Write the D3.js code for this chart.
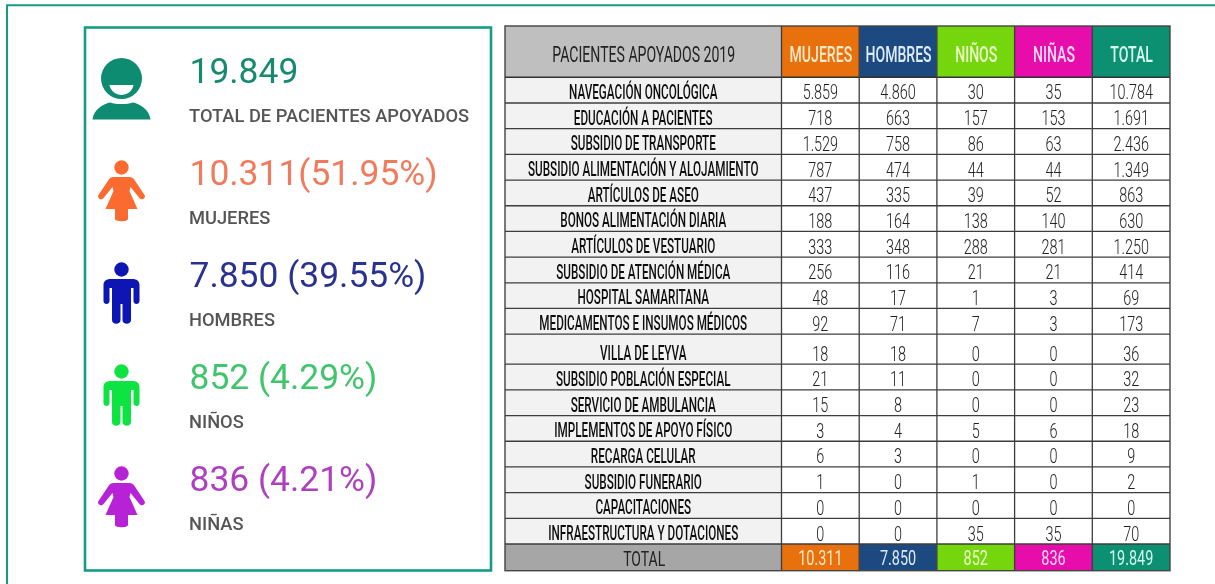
<!DOCTYPE html>
<html>
<head>
<meta charset="utf-8">
<script src="https://cdn.jsdelivr.net/npm/d3@7"></script>
<style>
  html, body { margin: 0; padding: 0; background: #fff; }
  svg { display: block; }
</style>
</head>
<body>
<svg width="1215" height="584"></svg>
<script>
// left panel
const summaryNames = ["TOTAL DE PACIENTES APOYADOS", "MUJERES", "HOMBRES", "NIÑOS", "NIÑAS"];
const summaryValues = ["19.849", "10.311(51.95%)", "7.850 (39.55%)", "852 (4.29%)", "836 (4.21%)"];
const summaryColors = ["#16896f", "#f27a5c", "#2a3190", "#3fc46c", "#ae40bf"];
const iconColors = ["#0f8c72", "#fb6a2e", "#0a16b2", "#10e443", "#b722d6"];
const iconKinds = ["user", "woman", "man", "man", "woman"];

// table
const categories = [
  "NAVEGACIÓN ONCOLÓGICA", "EDUCACIÓN A PACIENTES", "SUBSIDIO DE TRANSPORTE",
  "SUBSIDIO ALIMENTACIÓN Y ALOJAMIENTO", "ARTÍCULOS DE ASEO", "BONOS ALIMENTACIÓN DIARIA",
  "ARTÍCULOS DE VESTUARIO", "SUBSIDIO DE ATENCIÓN MÉDICA", "HOSPITAL SAMARITANA",
  "MEDICAMENTOS E INSUMOS MÉDICOS", "VILLA DE LEYVA", "SUBSIDIO POBLACIÓN ESPECIAL",
  "SERVICIO DE AMBULANCIA", "IMPLEMENTOS DE APOYO FÍSICO", "RECARGA CELULAR",
  "SUBSIDIO FUNERARIO", "CAPACITACIONES", "INFRAESTRUCTURA Y DOTACIONES"
];
const columns = ["MUJERES", "HOMBRES", "NIÑOS", "NIÑAS", "TOTAL"];
const columnColors = ["#e8700d", "#1f4a80", "#76d60f", "#e60cab", "#0b8f72"];
const columnText = ["#fde9c8", "#dcebfa", "#eaffc8", "#ffd9f6", "#d5fbef"];
const mujeres = [5859, 718, 1529, 787, 437, 188, 333, 256, 48, 92, 18, 21, 15, 3, 6, 1, 0, 0];
const hombres = [4860, 663, 758, 474, 335, 164, 348, 116, 17, 71, 18, 11, 8, 4, 3, 0, 0, 0];
const ninos = [30, 157, 86, 44, 39, 138, 288, 21, 1, 7, 0, 0, 0, 5, 0, 1, 0, 35];
const ninas = [35, 153, 63, 44, 52, 140, 281, 21, 3, 3, 0, 0, 0, 6, 0, 0, 0, 35];
const totals = [10784, 1691, 2436, 1349, 863, 630, 1250, 414, 69, 173, 36, 32, 23, 18, 9, 2, 0, 70];
const columnTotals = [10311, 7850, 852, 836, 19849];
const series = [mujeres, hombres, ninos, ninas, totals];
const tableTitle = "PACIENTES APOYADOS 2019";
const totalLabel = "TOTAL";

const fmt = d3.formatLocale({decimal: ",", thousands: ".", grouping: [3], currency: ["", ""]}).format(",d");
const svg = d3.select("svg");
const teal = "#179c82";

// blurred a little, the source is a low-res screenshot
const defs = svg.append("defs");
defs.append("filter").attr("id", "soft")
    .append("feGaussianBlur").attr("stdDeviation", 0.35);

const root = svg.append("g").attr("filter", "url(#soft)");

// outer frame
root.append("path")
    .attr("d", "M7,584V5.3H1215")
    .attr("fill", "none").attr("stroke", teal).attr("stroke-width", 2);

// summary panel
root.append("rect")
    .attr("x", 85).attr("y", 27.5).attr("width", 406).attr("height", 543)
    .attr("fill", "#fff").attr("stroke", teal).attr("stroke-width", 2.6);

const valueY = d3.scalePoint().domain(summaryNames).range([83, 491]);

const iconPaths = {
  woman: "M-8,17 C-10,17 -12,18 -13,20 L-23,35 C-25,38 -20,41 -18,38 L-9,27 L-8,31 L-16,49 L-6.5,49 L-6.5,59 C-6.5,62 6.5,62 6.5,59 L6.5,49 L16,49 L8,31 L9,27 L18,38 C20,41 25,38 23,35 L13,20 C12,18 10,17 8,17 Z",
  man: "M-11,17 C-15,17 -18,19 -18,23 L-18,39 C-18,43 -12,43 -12,39 L-12,26 L-9.5,26 L-9.5,58 C-9.5,63 -1,63 -1,58 L-1,42 L1,42 L1,58 C1,63 9.5,63 9.5,58 L9.5,26 L12,26 L12,39 C12,43 18,43 18,39 L18,23 C18,19 15,17 11,17 Z"
};

summaryNames.forEach(function(name, i) {
  const y = valueY(name);
  root.append("text")
      .attr("x", 189.5).attr("y", y)
      .attr("font-family", "Roboto").attr("font-size", 35.4)
      .attr("fill", summaryColors[i]).text(summaryValues[i]);
  root.append("text")
      .attr("x", 189).attr("y", y + 39)
      .attr("font-family", "Roboto").attr("font-weight", 500).attr("font-size", 18.3)
      .attr("fill", "#555").text(name);

  const icon = root.append("g").attr("fill", iconColors[i]);
  if (iconKinds[i] === "user") {
    icon.attr("transform", "translate(121.5," + (y - 4.5) + ")");
    icon.append("circle").attr("r", 20.5);
    icon.append("path").attr("d", "M-12,6.5 H12 C11,13 5,16.5 0,16.5 C-5,16.5 -11,13 -12,6.5 Z").attr("fill", "#fff");
    icon.append("path").attr("d", "M-29,41 C-28,31 -18,25 -11,24 C-6,26 6,26 11,24 C18,25 28,31 29,41 Z");
  } else {
    icon.attr("transform", "translate(121.5," + (y - 25) + ")");
    icon.append("circle").attr("cy", 7.5).attr("r", 7.2);
    icon.append("path").attr("d", iconPaths[iconKinds[i]]);
  }
});

// table scales, the VILLA DE LEYVA row is a bit taller than the others
const labelX = d3.scaleLinear().domain([0, 1]).range([505, 781.5]);
const colX = d3.scaleBand().domain(columns).range([781.5, 1170]);
const rowEdge = d3.scaleLinear().domain([0, 18.17]).range([77.3, 544]);
const rowEnd = categories.map(function(d, i) { return i < 10 ? i + 1 : i + 1.17; });

const g = root.append("g").attr("class", "table");

// backgrounds
g.append("rect").attr("x", labelX(0)).attr("y", 26).attr("width", labelX(1) - labelX(0)).attr("height", 51.3).attr("fill", "#bfbfbf");
g.append("rect").attr("x", labelX(0)).attr("y", rowEdge(0)).attr("width", labelX(1) - labelX(0)).attr("height", rowEdge(18.17) - rowEdge(0)).attr("fill", "#f2f2f2");
g.append("rect").attr("x", labelX(0)).attr("y", 544).attr("width", labelX(1) - labelX(0)).attr("height", 26.7).attr("fill", "#a6a6a6");

g.selectAll("rect.head").data(columns).enter().append("rect")
    .attr("class", "head")
    .attr("x", function(d) { return colX(d); })
    .attr("y", 26).attr("width", colX.bandwidth()).attr("height", 51.3)
    .attr("fill", function(d, i) { return columnColors[i]; });
g.selectAll("rect.foot").data(columns).enter().append("rect")
    .attr("class", "foot")
    .attr("x", function(d) { return colX(d); })
    .attr("y", 544).attr("width", colX.bandwidth()).attr("height", 26.7)
    .attr("fill", function(d, i) { return columnColors[i]; });

// grid
g.selectAll("line.h").data(rowEnd).enter().append("line")
    .attr("class", "h")
    .attr("x1", 505).attr("x2", 1170)
    .attr("y1", function(d) { return rowEdge(d); })
    .attr("y2", function(d) { return rowEdge(d); })
    .attr("stroke", "#3d3d3d").attr("stroke-width", 1.3);
g.append("line").attr("x1", 505).attr("x2", 1170).attr("y1", 77.3).attr("y2", 77.3).attr("stroke", "#333").attr("stroke-width", 1.6);
g.append("rect").attr("x", 505).attr("y", 26).attr("width", 665).attr("height", 544.7)
    .attr("fill", "none").attr("stroke", "#444").attr("stroke-width", 1.4);
g.selectAll("line.v").data(columns).enter().append("line")
    .attr("class", "v")
    .attr("x1", function(d) { return colX(d); }).attr("x2", function(d) { return colX(d); })
    .attr("y1", 26).attr("y2", 570.7)
    .attr("stroke", "#3d3d3d").attr("stroke-width", 1.3);

// no condensed font here, so Roboto squeezed to get the look of the source
function cellText(x, y, str, size, squeeze, fill, weight) {
  return g.append("text")
      .attr("transform", "translate(" + x + "," + y + ") scale(" + squeeze + ",1)")
      .attr("text-anchor", "middle")
      .attr("font-family", "Roboto")
      .attr("font-weight", weight)
      .attr("font-size", size)
      .attr("fill", fill)
      .text(str);
}

const labelMid = (labelX(0) + labelX(1)) / 2;
cellText(labelMid + 0.5, 62, tableTitle, 22, 0.64, "#222", 400);

columns.forEach(function(c, j) {
  const mid = colX(c) + colX.bandwidth() / 2;
  cellText(mid + 0.5, 62, c, 22, 0.64, columnText[j], 500);
  cellText(mid, 565, fmt(columnTotals[j]), 19.5, 0.74, columnText[j], 400);
});
cellText(labelMid + 1, 566, totalLabel, 20, 0.7, "#222", 400);

categories.forEach(function(name, i) {
  const base = rowEdge(rowEnd[i]) - 4;
  cellText(labelMid, base, name, 19.5, 0.6, "#111", 500);
  series.forEach(function(values, j) {
    cellText(colX(columns[j]) + colX.bandwidth() / 2, base + 0.5, fmt(values[i]), 19.5, 0.74, "#222", 300);
  });
});
</script>
</body>
</html>
